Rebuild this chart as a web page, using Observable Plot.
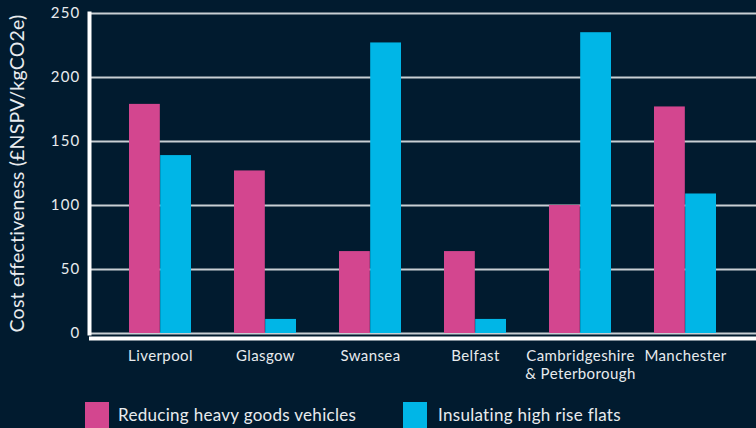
<!DOCTYPE html>
<html><head><meta charset="utf-8">
<script src="https://cdn.jsdelivr.net/npm/d3@7"></script>
<script src="https://cdn.jsdelivr.net/npm/@observablehq/plot@0.6"></script>
<style>
html,body{margin:0;padding:0;background:#011b2f;}
body{width:756px;height:428px;overflow:hidden;font-family:Lato,sans-serif;}
#chart svg{display:block;background:#011b2f;}
g[aria-label="y-axis label"] text, g[aria-label="y-axis label"]{font-size:19.5px;letter-spacing:0.2px;}
g[aria-label="y-axis tick label"]{letter-spacing:1.2px;}
g[aria-label="x-axis tick label"]{letter-spacing:0.4px;}
#legend{position:relative;height:30px;}
.sw{position:absolute;top:4px;width:24px;height:26px;}
.lt{position:absolute;top:5px;color:#e8ebee;font-size:17px;letter-spacing:0.3px;line-height:24px;}
</style>
</head><body>
<div id="chart"></div>
<div id="legend"></div>
<script>
const cities = ["Liverpool","Glasgow","Swansea","Belfast","Cambridgeshire\n& Peterborough","Manchester"];
const seriesNames = ["Reducing heavy goods vehicles","Insulating high rise flats"];
const hgv = [179,127,64,64,100,177];
const flats = [139,11,227,11,235,109];
const colors = ["#d3468f","#00b6e7"];
const yTicks = [0,50,100,150,200,250];
const yLabel = "Cost effectiveness (£NSPV/kgCO2e)";

const W = 756, H = 398, mL = 89, mR = 0, mT = 13, mB = 65;
const padIn = 0.41, padOut = 0.36;
const bw = d3.scaleBand().domain(cities).range([mL, W - mR]).paddingInner(padIn).paddingOuter(padOut).bandwidth();

const dHgv = cities.map((c,i) => ({city:c, value:hgv[i]}));
const dFlats = cities.map((c,i) => ({city:c, value:flats[i]}));
const textColor = "#e8ebee";

const plot = Plot.plot({
  width: W, height: H,
  marginLeft: mL, marginRight: mR, marginTop: mT, marginBottom: mB,
  style: {background: "#011b2f", color: textColor, fontFamily: "Lato, sans-serif"},
  x: {domain: cities, paddingInner: padIn, paddingOuter: padOut},
  y: {domain: [0, 250]},
  marks: [
    Plot.gridY(yTicks, {stroke: "#dfe3e7", strokeOpacity: 0.9, strokeWidth: 2}),
    Plot.barY(dHgv, {x: "city", y: "value", fill: colors[0], insetRight: bw/2}),
    Plot.barY(dFlats, {x: "city", y: "value", fill: colors[1], insetLeft: bw/2}),
    Plot.ruleY([0], {stroke: "white", strokeWidth: 4, dy: 5}),
    Plot.frame({anchor: "left", stroke: "white", strokeWidth: 4}),
    Plot.axisY(yTicks, {tickSize: 0, tickPadding: 9, fontSize: 15, fill: textColor, label: yLabel, labelArrow: "none", labelAnchor: "center", labelOffset: 79}),
    Plot.axisX({tickSize: 0, tickPadding: 15, fontSize: 15, fill: textColor, lineHeight: 1.2, label: null})
  ]
});
document.getElementById("chart").appendChild(plot);

const leg = document.getElementById("legend");
const legX = [[85, 118], [403, 438]];
seriesNames.forEach((s, i) => {
  const sw = document.createElement("div");
  sw.className = "sw"; sw.style.left = legX[i][0] + "px"; sw.style.background = colors[i];
  leg.appendChild(sw);
  const t = document.createElement("div");
  t.className = "lt"; t.style.left = legX[i][1] + "px"; t.textContent = s;
  leg.appendChild(t);
});
</script>
</body></html>
